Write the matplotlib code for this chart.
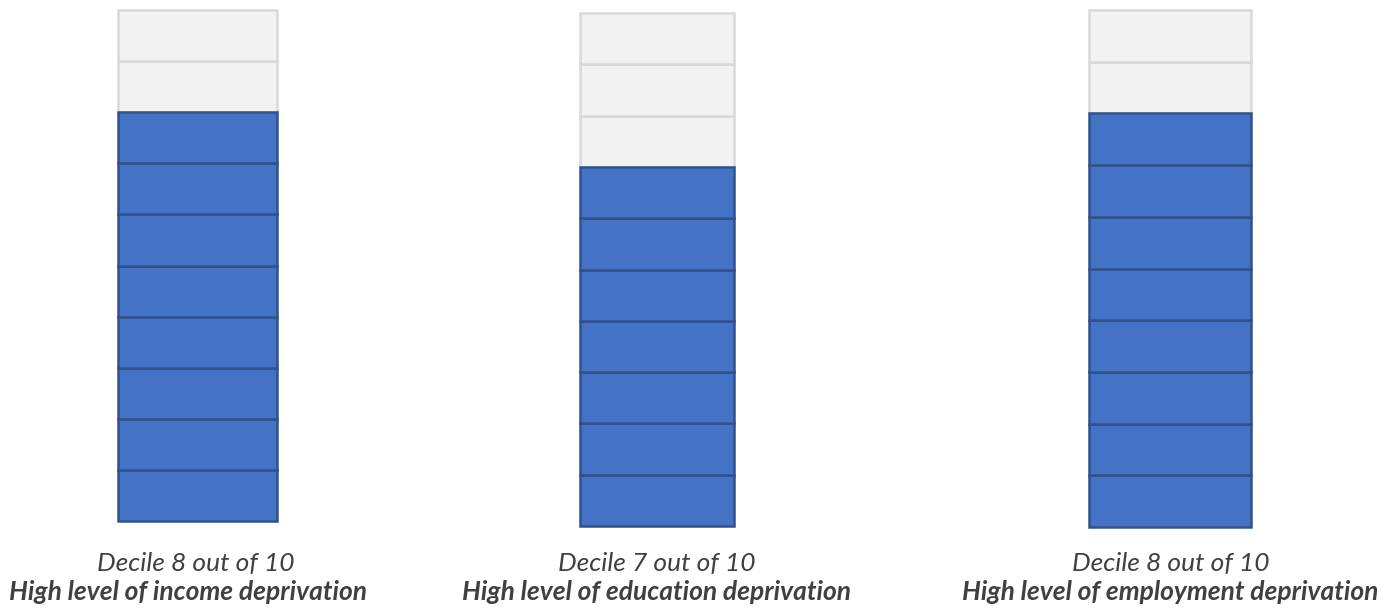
import matplotlib
matplotlib.use("Agg")
import matplotlib.pyplot as plt

# Deprivation domains and the decile reached in each (out of 10)
domains = ["income", "education", "employment"]
deciles = [8, 7, 8]
total_deciles = 10

# Column rectangles in pixels: left, right, top, bottom
columns_px = [(118, 277, 10, 521), (580, 734, 13, 526), (1089, 1251, 10, 527)]
# Horizontal centres (pixels) of the two caption lines under each column
caption_cx = [(196, 188), (657, 656), (1171, 1170)]

FILL = "#4472C4"
FILL_EDGE = "#2F528F"
EMPTY = "#F2F2F2"
EMPTY_EDGE = "#D9D9D9"
TEXT = "#404040"

W, H = 1395, 608
fig = plt.figure(figsize=(W / 100, H / 100), dpi=100)
plt.rcParams["font.family"] = ["Lato", "DejaVu Sans"]

for domain, dec, (l, r, t, b), (c1, c2) in zip(domains, deciles, columns_px, caption_cx):
    ax = fig.add_axes([l / W, 1 - b / H, (r - l) / W, (b - t) / H])
    levels = list(range(total_deciles))
    colors = [FILL if i < dec else EMPTY for i in levels]
    edges = [FILL_EDGE if i < dec else EMPTY_EDGE for i in levels]
    # empty blocks first so filled outlines sit on top
    order = sorted(levels, key=lambda i: i < dec)
    for i in order:
        bars = ax.bar(0.5, 1, bottom=i, width=1, color=colors[i],
                      edgecolor=edges[i], linewidth=1.8,
                      zorder=3 if i < dec else 2)
        for p in bars:
            p.set_clip_on(False)
    ax.set_xlim(0, 1)
    ax.set_ylim(0, total_deciles)
    ax.axis("off")

    fig.text(c1 / W, 1 - 563 / H, f"Decile {dec} out of {total_deciles}",
             ha="center", va="center", fontsize=19, style="italic", color=TEXT)
    fig.text(c2 / W, 1 - 592 / H, f"High level of {domain} deprivation",
             ha="center", va="center", fontsize=19, style="italic",
             fontweight="bold", color=TEXT)

fig.savefig("out.png", dpi=100)
